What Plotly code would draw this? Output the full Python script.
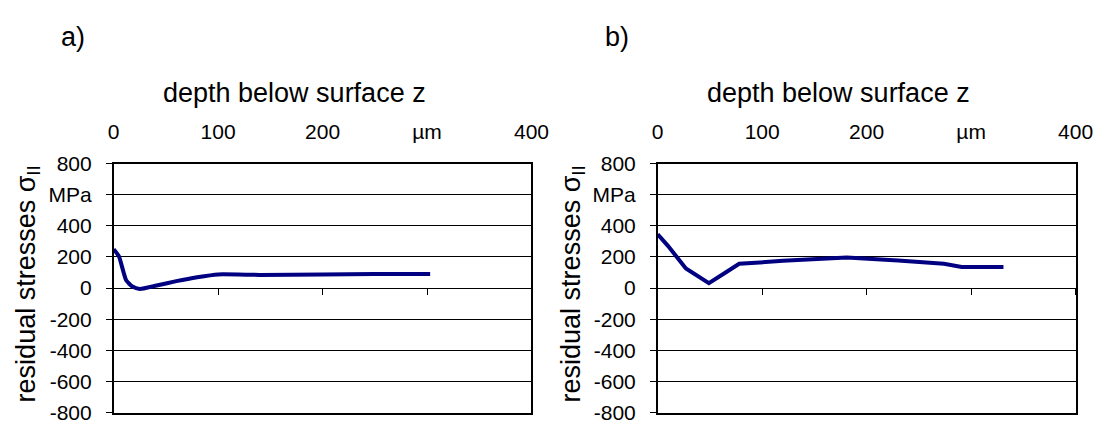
import plotly.graph_objects as go

# ---- data ----
a_depth = [0, 5, 12, 18, 25, 40, 60, 80, 100, 140, 200, 250, 303]
a_stress = [250, 205, 50, 10, -5, 15, 45, 70, 88, 85, 88, 90, 90]

b_depth = [0, 10, 27, 49, 65, 78, 120, 181, 230, 274, 291, 331]
b_stress = [346, 270, 126, 32, 100, 156, 175, 196, 178, 156, 136, 136]

x_tickvals = [0, 100, 200, 300, 400]
x_ticktext = ["0", "100", "200", "µm", "400"]
y_tickvals = [-800, -600, -400, -200, 0, 200, 400, 600, 800]
y_ticktext = ["-800", "-600", "-400", "-200", "0", "200", "400", "MPa", "800"]
panel_labels = ["a)", "b)"]
x_title = "depth below surface z"
y_title = "residual stresses σ<sub>II</sub>"

W, H = 1118, 436
FONT = "Liberation Sans, Arial, sans-serif"
NAVY = "#000080"

def px(x):
    return x / W

def py(y):
    return 1 - y / H

ydom = [py(423), py(160)]
zero_pos = py(291.5)
doms = [[px(110), px(537)], [px(666), px(1093)]]

fig = go.Figure()
fig.add_trace(go.Scatter(x=a_depth, y=a_stress, mode="lines",
                         line=dict(color=NAVY, width=4, shape="spline", smoothing=0.5),
                         xaxis="x", yaxis="y", showlegend=False))
fig.add_trace(go.Scatter(x=b_depth, y=b_stress, mode="lines",
                         line=dict(color=NAVY, width=4),
                         xaxis="x2", yaxis="y2", showlegend=False))
# invisible companions so the top (label) axes get drawn
fig.add_trace(go.Scatter(x=a_depth, y=a_stress, mode="lines", opacity=0,
                         hoverinfo="skip", xaxis="x3", yaxis="y", showlegend=False))
fig.add_trace(go.Scatter(x=b_depth, y=b_stress, mode="lines", opacity=0,
                         hoverinfo="skip", xaxis="x4", yaxis="y2", showlegend=False))

tickfont = dict(family=FONT, size=21, color="black")

layout = dict(width=W, height=H, margin=dict(l=0, r=0, t=0, b=0),
              paper_bgcolor="white", plot_bgcolor="white", showlegend=False)

for i, (main, top, yax) in enumerate([("xaxis", "xaxis3", "yaxis"), ("xaxis2", "xaxis4", "yaxis2")]):
    xid = "x" if i == 0 else "x2"
    yid = "y" if i == 0 else "y2"
    layout[main] = dict(domain=doms[i], range=[0, 400], anchor="free", position=zero_pos,
                        side="bottom", ticks="outside", ticklen=6, tickwidth=1, tickcolor="black",
                        tickvals=[100, 200, 300, 400], showticklabels=False,
                        showgrid=False, showline=False, zeroline=False, fixedrange=True)
    layout[top] = dict(overlaying=xid, anchor=yid, side="top", range=[0, 400],
                       tickvals=x_tickvals, ticktext=x_ticktext, ticks="",
                       ticklabelstandoff=14, tickfont=tickfont,
                       showline=True, mirror=True, linecolor="black", linewidth=1.5,
                       showgrid=False, zeroline=False)
    layout[yax] = dict(domain=ydom, range=[-800, 800], anchor=xid,
                       tickvals=y_tickvals, ticktext=y_ticktext, ticks="outside",
                       ticklen=6, tickcolor="black", tickfont=tickfont,
                       ticklabelstandoff=10,
                       showline=True, mirror=True, linecolor="black", linewidth=1.5,
                       showgrid=True, gridcolor="black", gridwidth=1, zeroline=False)

fig.update_layout(**layout)

ann = []
label_x = [68, 624]
title_x = [295, 851]
ytitle_x = [22, 579]
for i in range(2):
    ann.append(dict(text=panel_labels[i], x=px(label_x[i]), y=py(26), xref="paper", yref="paper",
                    showarrow=False, font=dict(family=FONT, size=27, color="black"),
                    xanchor="center", yanchor="middle"))
    ann.append(dict(text=x_title, x=px(title_x[i]), y=py(85), xref="paper", yref="paper",
                    showarrow=False, font=dict(family=FONT, size=27, color="black"),
                    xanchor="center", yanchor="middle"))
    ann.append(dict(text=y_title, x=px(ytitle_x[i]), y=py(287), xref="paper", yref="paper",
                    showarrow=False, textangle=-90, font=dict(family=FONT, size=27, color="black"),
                    xanchor="center", yanchor="middle"))
fig.update_layout(annotations=ann)

fig.write_html("out.html")
